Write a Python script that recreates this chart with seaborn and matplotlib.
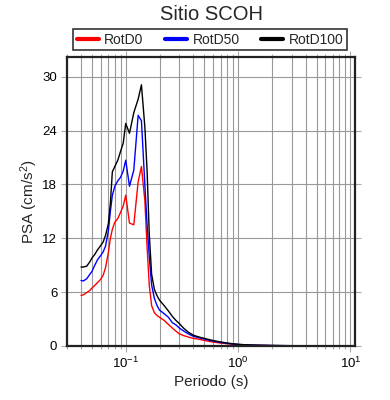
import numpy as np
import pandas as pd
import matplotlib
matplotlib.use("Agg")
import matplotlib.pyplot as plt
import seaborn as sns

# periods (s)
periodo = [0.04, 0.042, 0.045, 0.048, 0.05, 0.053, 0.056, 0.06, 0.063, 0.066,
           0.07, 0.073, 0.076, 0.08, 0.085, 0.09, 0.095, 0.1, 0.108, 0.118,
           0.129, 0.138, 0.148, 0.155, 0.162, 0.17, 0.18, 0.19, 0.2, 0.22,
           0.24, 0.26, 0.28, 0.3, 0.33, 0.36, 0.4, 0.45, 0.5, 0.56,
           0.63, 0.7, 0.8, 0.9, 1.0, 1.2, 1.5, 2.0, 2.5, 3.0,
           4.0, 5.0, 6.0, 7.5, 10.0]

rotd0 = [5.65, 5.7, 5.95, 6.2, 6.45, 6.75, 7.05, 7.45, 7.9, 8.7,
         10.4, 12.0, 13.0, 13.8, 14.2, 14.9, 15.6, 16.8, 13.7, 13.5,
         18.3, 20.0, 16.2, 11.0, 6.8, 4.5, 3.7, 3.4, 3.2, 2.85,
         2.4, 2.0, 1.65, 1.35, 1.15, 1.0, 0.85, 0.75, 0.62, 0.5,
         0.4, 0.33, 0.25, 0.19, 0.15, 0.1, 0.07, 0.045, 0.035, 0.027,
         0.019, 0.014, 0.01, 0.007, 0.005]

rotd50 = [7.3, 7.25, 7.5, 8.0, 8.3, 9.0, 9.6, 10.1, 10.5, 11.1,
          12.8, 15.0, 16.8, 17.8, 18.4, 18.8, 19.5, 20.7, 17.8, 19.6,
          25.7, 25.1, 18.0, 13.5, 10.0, 6.8, 5.3, 4.5, 4.0, 3.6,
          3.2, 2.6, 2.35, 2.0, 1.65, 1.35, 1.08, 0.92, 0.78, 0.62,
          0.5, 0.4, 0.3, 0.23, 0.17, 0.12, 0.08, 0.055, 0.04, 0.032,
          0.022, 0.016, 0.012, 0.008, 0.006]

rotd100 = [8.8, 8.8, 8.9, 9.4, 9.8, 10.2, 10.7, 11.2, 11.6, 12.3,
           13.6, 15.9, 19.4, 20.0, 20.7, 21.7, 22.6, 24.8, 23.7, 26.0,
           27.5, 29.1, 24.4, 19.5, 12.5, 8.0, 6.3, 5.6, 5.1, 4.5,
           3.9, 3.3, 2.85, 2.5, 1.95, 1.55, 1.2, 1.0, 0.85, 0.7,
           0.55, 0.45, 0.33, 0.25, 0.19, 0.13, 0.09, 0.06, 0.045, 0.035,
           0.025, 0.018, 0.013, 0.009, 0.006]

series = ["RotD0", "RotD50", "RotD100"]
colores = ["red", "blue", "black"]
yticks = [0, 6, 12, 18, 24, 30]

df = pd.concat([
    pd.DataFrame({"Periodo": periodo, "PSA": vals, "serie": name})
    for name, vals in zip(series, [rotd0, rotd50, rotd100])
])

sns.set_theme(style="white")
plt.rcParams["font.family"] = ["Liberation Sans", "DejaVu Sans"]
plt.rcParams["mathtext.fontset"] = "custom"
plt.rcParams["mathtext.rm"] = "Liberation Sans"
plt.rcParams["mathtext.it"] = "Liberation Sans:italic"
plt.rcParams["mathtext.bf"] = "Liberation Sans:bold"

fig = plt.figure(figsize=(3.9, 4.0), dpi=100)
ax = fig.add_axes([67 / 390, 1 - 346 / 400, 288 / 390, 289 / 400])

sns.lineplot(data=df, x="Periodo", y="PSA", hue="serie", palette=colores,
             hue_order=series, estimator=None, sort=False, linewidth=1.0, ax=ax)

ax.set_xscale("log")
ax.set_xlim(0.03, 11)
ax.set_ylim(0, 32.2)
ax.set_yticks(yticks)

# grid: vertical at every decade subdivision, horizontal at major ticks
ax.grid(True, which="major", color="#999999", linewidth=0.8)
ax.grid(True, which="minor", axis="x", color="#999999", linewidth=0.8)
ax.set_axisbelow(True)

for s in ax.spines.values():
    s.set_color("#222222")
    s.set_linewidth(1.6)

ax.tick_params(which="both", direction="out", top=True, right=True,
               bottom=True, left=True, color="#aaaaaa", labelsize=9.5,
               labelcolor="black")
ax.tick_params(which="major", length=4, width=0.8, pad=3)
ax.tick_params(which="minor", length=2.5, width=0.8)

ax.set_xlabel("Periodo (s)", fontsize=11, labelpad=3)
ax.set_ylabel("PSA (cm/s$^2$)", fontsize=11, labelpad=2)

fig.text(211 / 390, 1 - 15 / 400, "Sitio SCOH", ha="center", va="center",
         fontsize=14.5)

leg = ax.legend(loc="lower left", bbox_to_anchor=(0.021, 1.024, 0.951, 0.07),
                mode="expand", ncol=3, fontsize=10, frameon=True,
                fancybox=False, borderpad=0.25, handlelength=1.6,
                handletextpad=0.4, columnspacing=0.8, borderaxespad=0)
leg.get_frame().set_edgecolor("black")
leg.get_frame().set_linewidth(1.2)
for ln in leg.get_lines():
    ln.set_linewidth(3)

fig.savefig("out.png", dpi=100)
